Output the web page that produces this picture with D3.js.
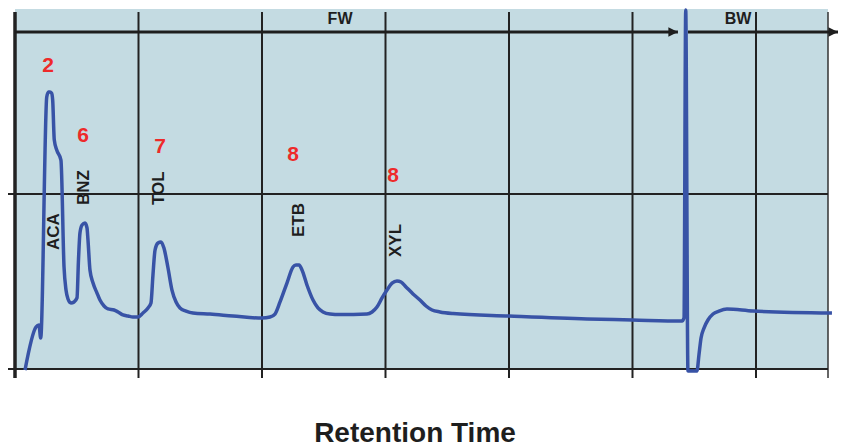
<!DOCTYPE html>
<html>
<head>
  <meta charset="utf-8">
  <title>Retention Time</title>
  <script src="https://cdn.jsdelivr.net/npm/d3@7"></script>
  <style type="text/css">
    body { margin: 0; background: #fff; }
    svg { display: block; font-family: "Liberation Sans", Arial, sans-serif; }
    .grid { stroke: #222; stroke-width: 2px; }
    .trace { fill: none; stroke: #3853a6; stroke-width: 3.5px; stroke-linejoin: round; }
    .peak-name { font-size: 17px; font-weight: bold; fill: #1e1e1e; }
    .count { font-size: 21px; font-weight: bold; fill: #ee2a2a; text-anchor: middle; }
    .flow { font-size: 16px; font-weight: bold; fill: #1e1e1e; text-anchor: middle; }
  </style>
</head>
<body>
<div id="graph-container"></div>
<script>

// =================== Data ======================
// trace: retention time (grid units) and detector signal
const retentionTime = [0.081, 0.170, 0.194, 0.208, 0.257, 0.271, 0.283, 0.296, 0.305, 0.318,
  0.338, 0.372, 0.397, 0.413, 0.429, 0.453, 0.478, 0.502, 0.514, 0.526, 0.543, 0.567, 0.583,
  0.591, 0.607, 0.632, 0.664, 0.688, 0.721, 0.753, 0.802, 0.834, 0.874, 0.915, 0.955, 0.996,
  1.036, 1.077, 1.101, 1.117, 1.134, 1.158, 1.182, 1.206, 1.239, 1.271, 1.304, 1.336, 1.385,
  1.441, 1.579, 1.765, 2.000, 2.065, 2.105, 2.146, 2.202, 2.251, 2.275, 2.300, 2.324, 2.364,
  2.413, 2.453, 2.494, 2.551, 2.632, 2.850, 2.891, 2.931, 2.972, 3.012, 3.053, 3.093, 3.126,
  3.166, 3.223, 3.279, 3.328, 3.377, 3.441, 3.547, 4.000, 4.632, 5.000, 5.401, 5.417, 5.431,
  5.449, 5.522, 5.538, 5.555, 5.579, 5.611, 5.652, 5.700, 5.765, 5.976, 6.615];
const signal = [-0.006, 0.240, 0.251, 0.177, 1.554, 1.583, 1.583, 1.577, 1.537, 1.309,
  1.251, 1.194, 0.583, 0.451, 0.400, 0.377, 0.383, 0.406, 0.623, 0.777, 0.823, 0.834, 0.806,
  0.737, 0.566, 0.491, 0.434, 0.394, 0.360, 0.343, 0.337, 0.326, 0.309, 0.303, 0.297, 0.297,
  0.320, 0.349, 0.377, 0.537, 0.680, 0.720, 0.726, 0.691, 0.577, 0.451, 0.383, 0.349, 0.331,
  0.320, 0.314, 0.303, 0.291, 0.297, 0.314, 0.383, 0.491, 0.583, 0.594, 0.594, 0.566, 0.480,
  0.394, 0.349, 0.326, 0.314, 0.311, 0.314, 0.326, 0.354, 0.406, 0.451, 0.491, 0.503, 0.497,
  0.469, 0.429, 0.394, 0.360, 0.337, 0.326, 0.317, 0.303, 0.286, 0.280, 0.274, 0.291, 2.051,
  -0.011, -0.011, 0.080, 0.177, 0.234, 0.280, 0.314, 0.331, 0.343, 0.331, 0.320];

// peak names, where they sit (time, signal level at the foot of the text)
const peakNames = ["ACA", "BNZ", "TOL", "ETB", "XYL"];
const peakNameTime = [0.308, 0.551, 1.158, 2.291, 3.077];
const peakNameLevel = [0.68, 0.937, 0.937, 0.754, 0.64];

// red numbers above the peaks
const peakCounts = ["2", "6", "7", "8", "8"];
const countTime = [0.267, 0.551, 1.174, 2.251, 3.061];
const countLevel = [1.697, 1.297, 1.234, 1.189, 1.069];

// flow direction arrows
const flowLabels = ["FW", "BW"];
const flowStart = [0, 5.449];
const flowEnd = [5.368, 6.664];
const flowLabelTime = [2.632, 5.854];

const xTicks = [0, 1, 2, 3, 4, 5, 6];
const yTicks = [0, 1];
const xMax = 6.583, yMax = 2.057, flowLevel = 1.926;
const xAxisTitle = "Retention Time";

// =================== Chart ======================
const width = 843, height = 447;
const margin = { top: 9, right: 15, bottom: 78, left: 15 };

const x = d3.scaleLinear().domain([0, xMax]).range([margin.left, width - margin.right]);
const y = d3.scaleLinear().domain([0, yMax]).range([height - margin.bottom, margin.top]);

const svg = d3.select("#graph-container").append("svg")
    .attr("width", width)
    .attr("height", height);

svg.append("defs").append("marker")
    .attr("id", "head")
    .attr("viewBox", "0 0 10 10")
    .attr("refX", 10).attr("refY", 5)
    .attr("markerWidth", 3.2).attr("markerHeight", 3.2)
    .attr("markerUnits", "strokeWidth")
    .attr("orient", "auto")
  .append("path")
    .attr("d", "M0,0L10,5L0,10Z")
    .attr("fill", "#1e1e1e");

// panel
svg.append("rect")
    .attr("x", x(0)).attr("y", y(yMax))
    .attr("width", x(xMax) - x(0))
    .attr("height", y(0) - y(yMax))
    .attr("fill", "#c4dbe2");

// vertical grid lines with ticks below the axis
svg.selectAll(".vgrid")
    .data(xTicks.slice(1))
  .enter().append("line")
    .attr("class", "grid")
    .attr("x1", d => x(d)).attr("x2", d => x(d))
    .attr("y1", y(yMax) + 3).attr("y2", y(0) + 9);

svg.append("line")
    .attr("x1", x(xMax)).attr("x2", x(xMax))
    .attr("y1", y(yMax) + 3).attr("y2", y(0) + 9)
    .attr("stroke", "#333").attr("stroke-width", 1.5);

// horizontal grid lines with ticks left of the axis
svg.selectAll(".hgrid")
    .data(yTicks)
  .enter().append("line")
    .attr("class", "grid")
    .attr("x1", x(0) - 7).attr("x2", x(xMax))
    .attr("y1", d => y(d)).attr("y2", d => y(d))
    .attr("stroke-width", d => d === 0 ? 2.5 : 2);

// left axis
svg.append("line")
    .attr("x1", x(0)).attr("x2", x(0))
    .attr("y1", y(yMax) + 3).attr("y2", y(0) + 9)
    .attr("stroke", "#222").attr("stroke-width", 3.5);

// flow arrows
svg.selectAll(".flow-line")
    .data(flowLabels)
  .enter().append("line")
    .attr("x1", (d, i) => x(flowStart[i]))
    .attr("x2", (d, i) => x(flowEnd[i]))
    .attr("y1", y(flowLevel)).attr("y2", y(flowLevel))
    .attr("stroke", "#1e1e1e").attr("stroke-width", 3)
    .attr("marker-end", "url(#head)");

svg.selectAll(".flow")
    .data(flowLabels)
  .enter().append("text")
    .attr("class", "flow")
    .attr("x", (d, i) => x(flowLabelTime[i]))
    .attr("y", y(flowLevel) - 8)
    .text(d => d);

// the trace
const line = d3.line()
    .x(d => x(d[0]))
    .y(d => y(d[1]))
    .curve(d3.curveMonotoneX);

svg.append("path")
    .datum(retentionTime.map((t, i) => [t, signal[i]]))
    .attr("class", "trace")
    .attr("d", line);

// peak names, rotated
svg.selectAll(".peak-name")
    .data(peakNames)
  .enter().append("text")
    .attr("class", "peak-name")
    .attr("transform", (d, i) =>
      "translate(" + (x(peakNameTime[i]) + 6) + "," + y(peakNameLevel[i]) + ") rotate(-90)")
    .text(d => d);

// counts
svg.selectAll(".count")
    .data(peakCounts)
  .enter().append("text")
    .attr("class", "count")
    .attr("x", (d, i) => x(countTime[i]))
    .attr("y", (d, i) => y(countLevel[i]))
    .text(d => d);

// axis title
svg.append("text")
    .attr("x", 415).attr("y", 442)
    .attr("text-anchor", "middle")
    .attr("font-size", 28).attr("font-weight", "bold")
    .attr("fill", "#1e1e1e")
    .text(xAxisTitle);

</script>
</body>
</html>
